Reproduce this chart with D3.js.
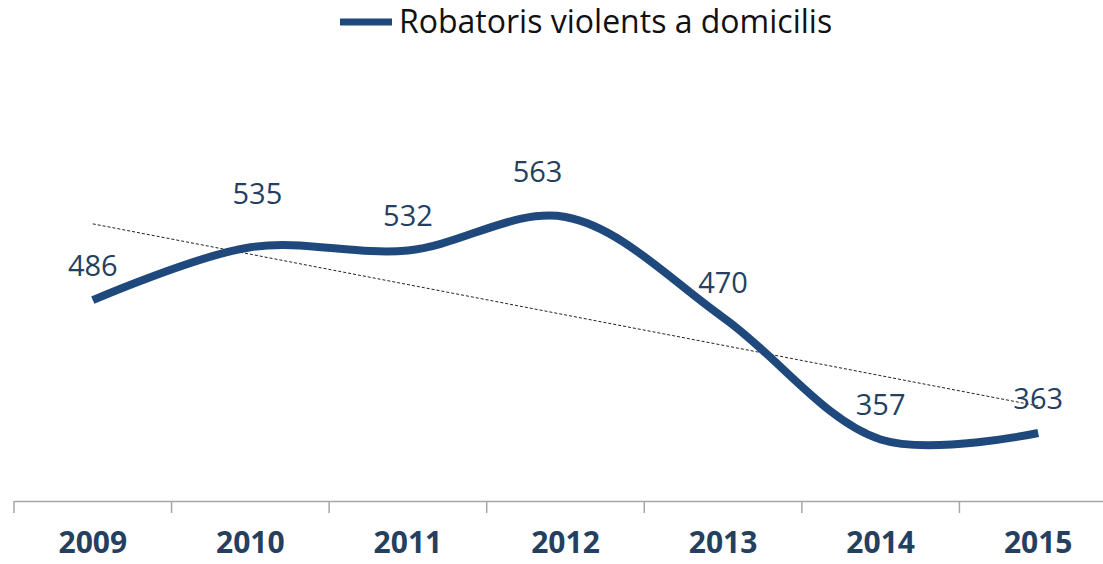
<!DOCTYPE html>
<html>
<head>
<meta charset="utf-8">
<script src="https://cdn.jsdelivr.net/npm/d3@7"></script>
<style>
  body { margin: 0; background: #fff; }
  svg { display: block; font-family: "Open Sans", sans-serif; }
</style>
</head>
<body>
<script>
// chart data
const years = ["2009", "2010", "2011", "2012", "2013", "2014", "2015"]
const robatoris = [486, 535, 532, 563, 470, 357, 363]
const seriesName = "Robatoris violents a domicilis"

const svgWidth = 1103
const svgHeight = 564

const lineColor = "#1F497D"
const textColor = "#243F60"

// a couple of labels sit off their usual place in the original
const labelNudge = { "2010": [7, -19], "2012": [-28, -11] }

const svg = d3.select("body")
  .append("svg")
    .attr("width", svgWidth)
    .attr("height", svgHeight)

// scales
const xScale = d3.scaleBand()
  .domain(years)
  .range([14, 1117])
  .padding(0)

const yScale = d3.scaleLinear()
  .domain([300, 700])
  .range([501, 69])

const cx = function(d) { return xScale(d) + xScale.bandwidth() / 2 }

// x axis, ticks between categories
const xAxis = d3.axisBottom(xScale)
  .tickSize(0)
  .tickPadding(31)

const gx = svg.append("g")
  .attr("transform", "translate(0,501)")
  .call(xAxis)

gx.select(".domain")
  .attr("stroke", "#A6A6A6")
  .attr("stroke-width", 1.5)

gx.selectAll(".tick text")
  .attr("fill", textColor)
  .attr("font-size", 30)
  .attr("font-weight", "bold")
  .attr("font-family", "'Open Sans', sans-serif")

gx.selectAll(".sep")
  .data(years)
  .enter()
  .append("line")
    .attr("class", "sep")
    .attr("x1", function(d) { return xScale(d) })
    .attr("x2", function(d) { return xScale(d) })
    .attr("y1", 0)
    .attr("y2", 12)
    .attr("stroke", "#A6A6A6")
    .attr("stroke-width", 1.5)

// data points
const points = years.map(function(y, i) { return { year: y, value: robatoris[i] } })

// linear trendline from the values
const n = points.length
const mx = d3.mean(points, function(d, i) { return i + 1 })
const my = d3.mean(points, function(d) { return d.value })
let sxy = 0, sxx = 0
points.forEach(function(d, i) {
  sxy += (i + 1 - mx) * (d.value - my)
  sxx += (i + 1 - mx) * (i + 1 - mx)
})
const slope = sxy / sxx
const icpt = my - slope * mx

svg.append("line")
  .attr("x1", cx(years[0]))
  .attr("y1", yScale(icpt + slope * 1))
  .attr("x2", cx(years[n - 1]))
  .attr("y2", yScale(icpt + slope * n))
  .attr("stroke", "#222")
  .attr("stroke-width", 1)
  .attr("stroke-dasharray", "3,2")

// smoothed series line
const line = d3.line()
  .x(function(d) { return cx(d.year) })
  .y(function(d) { return yScale(d.value) })
  .curve(d3.curveCatmullRom.alpha(0.5))

svg.append("path")
  .datum(points)
  .attr("d", line)
  .attr("fill", "none")
  .attr("stroke", lineColor)
  .attr("stroke-width", 8)

// value labels
svg.selectAll(".lbl")
  .data(points)
  .enter()
  .append("text")
    .attr("class", "lbl")
    .attr("x", function(d) {
      const nd = labelNudge[d.year] || [0, 0]
      return cx(d.year) + nd[0]
    })
    .attr("y", function(d) {
      const nd = labelNudge[d.year] || [0, 0]
      return yScale(d.value) - 24 + nd[1]
    })
    .attr("text-anchor", "middle")
    .attr("fill", textColor)
    .attr("font-size", 29)
    .text(function(d) { return d.value })

// legend
const legend = svg.append("g")
legend.append("line")
  .attr("x1", 340).attr("x2", 392)
  .attr("y1", 22).attr("y2", 22)
  .attr("stroke", lineColor)
  .attr("stroke-width", 7)
legend.append("text")
  .attr("x", 399)
  .attr("y", 33)
  .attr("fill", "#111")
  .attr("font-size", 32)
  .text(seriesName)
</script>
</body>
</html>
